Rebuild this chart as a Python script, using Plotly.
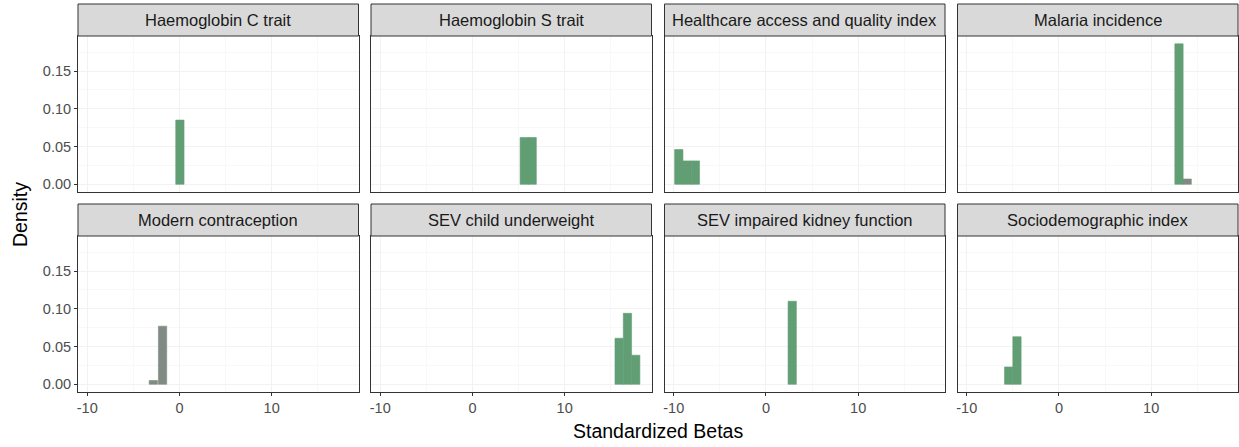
import plotly.graph_objects as go

# ---------------- data ----------------
facets = ["Haemoglobin C trait", "Haemoglobin S trait", "Healthcare access and quality index",
          "Malaria incidence", "Modern contraception", "SEV child underweight",
          "SEV impaired kidney function", "Sociodemographic index"]

green_centers = [[0.05], [5.62, 6.48], [-9.45, -8.55, -7.65], [13.02], [],
                 [15.91, 16.81, 17.71], [2.85], [-5.45, -4.55]]
green_density = [[0.085], [0.062, 0.062], [0.046, 0.031, 0.031], [0.186], [],
                 [0.061, 0.094, 0.0385], [0.110], [0.023, 0.063]]

grey_centers = [[], [], [], [13.91], [-2.83, -1.83], [], [], []]
grey_density = [[], [], [], [0.007], [0.005, 0.077], [], [], []]

bin_width = 0.9
x_ticks = [-10, 0, 10]
y_ticks = [0, 0.05, 0.10, 0.15]
y_tick_labels = ["0.00", "0.05", "0.10", "0.15"]
x_title = "Standardized Betas"
y_title = "Density"

# ---------------- layout geometry (pixels) ----------------
W, H = 1239, 447
col_left = [78, 371.0, 664.5, 957.5]
col_w = 280.5
row_strip_top = [4, 204]
row_panel_top = [36, 236]
row_panel_bot = [191.7, 391.7]

GREEN = "rgb(98,158,115)"
GREY = "rgb(128,140,131)"
FONT = "Liberation Sans, Arial, sans-serif"

fig = go.Figure()
layout = dict(
    width=W, height=H, margin=dict(l=0, r=0, t=0, b=0),
    paper_bgcolor="white", plot_bgcolor="white", showlegend=False,
    barmode="overlay", font=dict(family=FONT, color="#1a1a1a"),
)
shapes, annotations = [], []

for i, name in enumerate(facets):
    r, c = divmod(i, 4)
    k = i + 1
    xa = "xaxis" if k == 1 else f"xaxis{k}"
    ya = "yaxis" if k == 1 else f"yaxis{k}"
    xr = "x" if k == 1 else f"x{k}"
    yr = "y" if k == 1 else f"y{k}"
    x0 = col_left[c] / W
    x1 = min(1.0, (col_left[c] + col_w) / W)
    y0 = 1 - row_panel_bot[r] / H
    y1 = 1 - row_panel_top[r] / H
    layout[xa] = dict(
        domain=[x0, x1], anchor=yr, range=[-11.0, 19.42],
        tickvals=x_ticks, ticktext=[str(t) for t in x_ticks],
        showticklabels=(r == 1), ticks="outside" if r == 1 else "",
        ticklen=3, tickcolor="#333333", tickwidth=1,
        tickfont=dict(size=14.5, color="#4d4d4d", family=FONT),
        showgrid=True, gridcolor="#f2f2f2", gridwidth=1,
        minor=dict(tickvals=[-5, 5, 15], showgrid=True, gridcolor="#f8f8f8", ticks=""),
        zeroline=False, showline=True, mirror=True, linecolor="#333333", linewidth=1,
    )
    layout[ya] = dict(
        domain=[y0, y1], anchor=xr, range=[-0.0098, 0.1964],
        tickvals=y_ticks, ticktext=y_tick_labels,
        showticklabels=(c == 0), ticks="outside" if c == 0 else "",
        ticklen=3, tickcolor="#333333", tickwidth=1,
        tickfont=dict(size=14.5, color="#4d4d4d", family=FONT),
        showgrid=True, gridcolor="#f2f2f2", gridwidth=1,
        minor=dict(tickvals=[0.025, 0.075, 0.125, 0.175], showgrid=True, gridcolor="#f8f8f8", ticks=""),
        zeroline=False, showline=True, mirror=True, linecolor="#333333", linewidth=1,
    )
    if grey_centers[i]:
        fig.add_trace(go.Bar(x=grey_centers[i], y=grey_density[i], width=bin_width,
                             marker=dict(color=GREY, line=dict(width=0.6, color=GREY)),
                             xaxis=xr, yaxis=yr, hoverinfo="x+y"))
    if green_centers[i]:
        fig.add_trace(go.Bar(x=green_centers[i], y=green_density[i], width=bin_width,
                             marker=dict(color=GREEN, line=dict(width=0.6, color=GREEN)),
                             xaxis=xr, yaxis=yr, hoverinfo="x+y"))
    # strip
    shapes.append(dict(type="rect", xref="paper", yref="paper",
                       x0=x0, x1=x1, y0=1 - row_panel_top[r] / H, y1=1 - row_strip_top[r] / H,
                       fillcolor="#d9d9d9", line=dict(color="#333333", width=1), layer="above"))
    annotations.append(dict(text=name, xref="paper", yref="paper",
                            x=(x0 + x1) / 2, y=1 - (row_strip_top[r] + row_panel_top[r]) / 2 / H,
                            xanchor="center", yanchor="middle", showarrow=False,
                            font=dict(size=16.5, color="#1a1a1a", family=FONT)))

annotations.append(dict(text=x_title, xref="paper", yref="paper",
                        x=(col_left[0] + col_left[3] + col_w) / 2 / W, y=1 - 431 / H,
                        xanchor="center", yanchor="middle", showarrow=False,
                        font=dict(size=19.5, color="#000000", family=FONT)))
annotations.append(dict(text=y_title, xref="paper", yref="paper", textangle=-90,
                        x=20 / W, y=1 - 214 / H,
                        xanchor="center", yanchor="middle", showarrow=False,
                        font=dict(size=19.5, color="#000000", family=FONT)))

layout["shapes"] = shapes
layout["annotations"] = annotations
fig.update_layout(**layout)
fig.write_html("out.html", config={"displayModeBar": False},
               post_script="document.body.style.margin='0px';document.body.style.overflow='hidden';")
